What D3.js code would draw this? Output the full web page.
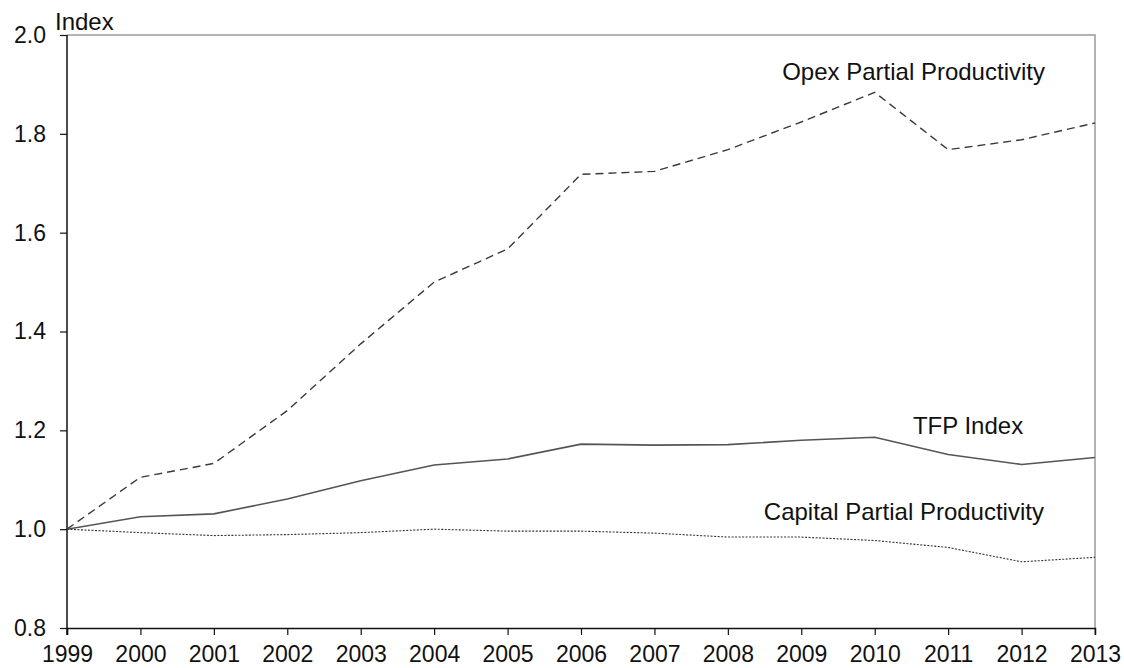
<!DOCTYPE html>
<html>
<head>
<meta charset="utf-8">
<script src="https://cdn.jsdelivr.net/npm/d3@7"></script>
<style>
  body { margin: 0; background: #fff; }
  svg { display: block; font-family: "Liberation Sans", Arial, sans-serif; }
  .tick text { fill: #111; }
</style>
</head>
<body>
<svg id="chart" width="1124" height="668"></svg>
<script>
// data
const years   = [1999, 2000, 2001, 2002, 2003, 2004, 2005, 2006, 2007, 2008, 2009, 2010, 2011, 2012, 2013];
const opex    = [1.000, 1.105, 1.133, 1.240, 1.375, 1.500, 1.567, 1.718, 1.724, 1.768, 1.824, 1.884, 1.768, 1.788, 1.822];
const tfp     = [1.000, 1.025, 1.031, 1.061, 1.098, 1.130, 1.142, 1.172, 1.170, 1.171, 1.180, 1.186, 1.151, 1.131, 1.145];
const capital = [1.000, 0.993, 0.987, 0.989, 0.993, 1.000, 0.996, 0.996, 0.992, 0.984, 0.984, 0.977, 0.963, 0.934, 0.943];
const yTicks  = [0.8, 1.0, 1.2, 1.4, 1.6, 1.8, 2.0];

// label anchors in data units (year, value)
const labels = [
  { text: 'Opex Partial Productivity',    year: 2008.74, value: 1.909 },
  { text: 'TFP Index',                    year: 2010.52, value: 1.193 },
  { text: 'Capital Partial Productivity', year: 2008.49, value: 1.019 }
];

const W = 1124, H = 668;
const M = { top: 35, right: 29, bottom: 40, left: 67 };

const svg = d3.select('#chart');
const x = d3.scaleLinear().domain([1999, 2013]).range([M.left, W - M.right]);
const y = d3.scaleLinear().domain([0.8, 2.0]).range([H - M.bottom, M.top]);

// frame (top + right, grey)
svg.append('path')
  .attr('d', `M${M.left},${M.top}H${W - M.right}V${H - M.bottom + 7}`)
  .attr('fill', 'none')
  .attr('stroke', '#9a9a9a')
  .attr('stroke-width', 1.5);

// axes
const xAxis = svg.append('g')
  .attr('transform', `translate(0,${H - M.bottom})`)
  .call(d3.axisBottom(x).tickValues(years).tickFormat(d3.format('d')).tickSize(7).tickPadding(11));

const yAxis = svg.append('g')
  .attr('transform', `translate(${M.left},0)`)
  .call(d3.axisLeft(y).tickValues(yTicks).tickFormat(d3.format('.1f')).tickSize(7).tickPadding(14));

[xAxis, yAxis].forEach(g => {
  g.select('.domain').attr('stroke', '#111').attr('stroke-width', 1.5);
  g.selectAll('.tick line').attr('stroke', '#111').attr('stroke-width', 1.2);
  g.selectAll('.tick text').style('font-size', '23px');
});
yAxis.select('.domain').attr('d', `M0,${M.top}V${H - M.bottom + 7}`);
xAxis.select('.tick:last-of-type line').remove();

// y-axis title
svg.append('text')
  .attr('x', M.left - 12)
  .attr('y', 30)
  .style('font-size', '24px')
  .attr('fill', '#111')
  .text('Index');

// series
const line = d3.line()
  .x((d, i) => x(years[i]))
  .y(d => y(d));

const series = [
  { values: opex,    stroke: '#3a3a3a', width: 1.4, dash: '8,5' },
  { values: tfp,     stroke: '#555',    width: 1.6, dash: null },
  { values: capital, stroke: '#333',    width: 1.1, dash: '2,1.5' }
];

svg.selectAll('.series')
  .data(series)
  .join('path')
  .attr('class', 'series')
  .attr('fill', 'none')
  .attr('stroke', d => d.stroke)
  .attr('stroke-width', d => d.width)
  .attr('stroke-dasharray', d => d.dash)
  .attr('d', d => line(d.values));

// series labels
svg.selectAll('.lbl')
  .data(labels)
  .join('text')
  .attr('class', 'lbl')
  .attr('x', d => x(d.year))
  .attr('y', d => y(d.value))
  .style('font-size', '24px')
  .attr('fill', '#111')
  .text(d => d.text);
</script>
</body>
</html>
